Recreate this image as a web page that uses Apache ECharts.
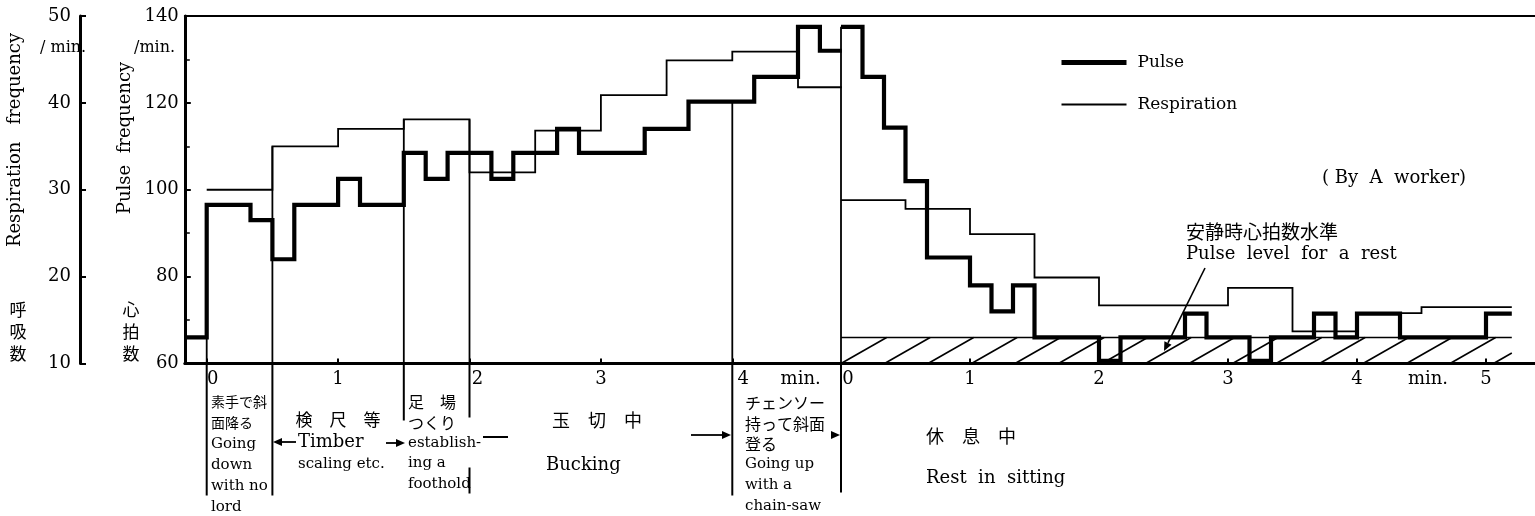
<!DOCTYPE html>
<html><head><meta charset="utf-8">
<script src="https://cdn.jsdelivr.net/npm/echarts@6/dist/echarts.min.js"></script>
<style>html,body{margin:0;padding:0;background:#fff}#c{width:1535px;height:516px}</style>
</head><body><div id="c"></div>
<script>
// ---- Data (minutes; pulse beats/min; respiration breaths/min) ----
const workPulseT = [-1/6, 0, 1/3, 1/2, 2/3, 1, 7/6, 3/2, 5/3, 11/6, 13/6, 7/3, 8/3, 17/6, 10/3, 11/3, 25/6, 9/2, 14/3, 29/6];
const workPulse  = [66, 96.5, 93, 84, 96.5, 102.5, 96.5, 108.5, 102.5, 108.5, 102.5, 108.5, 114, 108.5, 114, 120.3, 126, 137.5, 132, 132];
const workRespT  = [0, 0.5, 1, 1.5, 2, 2.5, 3, 3.5, 4, 4.5, 29/6];
const workResp   = [30, 35, 37, 38.1, 32, 36.8, 40.9, 44.9, 45.9, 41.8, 41.8];
const restPulseT = [0, 1/6, 1/3, 1/2, 2/3, 1, 7/6, 4/3, 3/2, 2, 13/6, 8/3, 17/6, 19/6, 10/3, 11/3, 23/6, 4, 13/3, 5, 5.2];
const restPulse  = [137.5, 126, 114.3, 102, 84.4, 78, 72, 78, 66, 60.6, 66, 71.5, 66, 60.6, 66, 71.5, 66, 71.5, 66, 71.5, 71.5];
const restRespT  = [0, 0.5, 1, 1.5, 2, 3, 3.5, 4, 4.5, 5.2];
const restResp   = [28.8, 27.8, 24.9, 19.9, 16.7, 18.7, 13.7, 15.8, 16.5, 16.5];
const restLevel  = [[0, 5.2, 60, 66]];           // resting pulse level band
const workDividerT   = [0, 0.5, 1.5, 2, 4];
const workDividerTop = [96.5, 110, 116.2, 116.2, 120.3];
const restDividerT   = [0];
const restDividerTop = [137.5];
const pulseTicks = [60, 80, 100, 120, 140];
const respTicks  = [10, 20, 30, 40, 50];
const workTicks  = [0, 1, 2, 3, 4];
const restTicks  = [0, 1, 2, 3, 4, 5];

// ---- styles ----
const SERIF = '"DejaVu Serif", "Liberation Serif", serif';
const JP = '"Noto Sans CJK JP", sans-serif';
const workBelow = [[[0,132]], [[0,132]], [[0,57]], [[0,54],[104,130]], [[0,132]]];
const restBelow = [[[0,129]]];

const zip = (a, b) => a.map((v, i) => [v, b[i]]);

function dividerRender(below) {
  return function (params, api) {
    const pTop = api.coord([api.value(0), api.value(1)]);
    const pBot = api.coord([api.value(0), 60]);
    const ch = [{type:'line', shape:{x1:pTop[0], y1:pTop[1], x2:pBot[0], y2:pBot[1]}, style:{stroke:'#000', lineWidth:1.8}}];
    (below[params.dataIndex] || []).forEach(s => {
      ch.push({type:'line', shape:{x1:pBot[0], y1:pBot[1]+s[0], x2:pBot[0], y2:pBot[1]+s[1]}, style:{stroke:'#000', lineWidth:2}});
    });
    return {type:'group', children: ch};
  };
}

function hatchRender(params, api) {
  const p0 = api.coord([api.value(0), api.value(2)]);
  const p1 = api.coord([api.value(1), api.value(3)]);
  const left = p0[0], bottom = p0[1], right = p1[0], top = p1[1];
  const h = bottom - top, run = h * 1.75, gap = 43.5;
  const st = {stroke:'#000', lineWidth:1.6};
  const ch = [{type:'line', shape:{x1:left, y1:top, x2:right, y2:top}, style:st}];
  for (let x = left; x < right - 2; x += gap) {
    let x2 = x + run, y2 = top;
    if (x2 > right) { y2 = bottom - h * (right - x) / run; x2 = right; }
    ch.push({type:'line', shape:{x1:x, y1:bottom, x2:x2, y2:y2}, style:st});
  }
  return {type:'group', children: ch};
}

function arrow(x1, y1, x2, y2, lw) {
  const a = Math.atan2(y2 - y1, x2 - x1), L = 9, W = 4;
  const bx = x2 - L * Math.cos(a), by = y2 - L * Math.sin(a);
  return [
    {type:'line', shape:{x1, y1, x2:bx, y2:by}, style:{stroke:'#000', lineWidth: lw || 1.8}},
    {type:'polygon', shape:{points:[[x2,y2],[bx - W*Math.sin(a), by + W*Math.cos(a)],[bx + W*Math.sin(a), by - W*Math.cos(a)]]}, style:{fill:'#000'}}
  ];
}
function txt(x, y, s, size, font, extra) {
  return {type:'text', x, y, style:Object.assign({text:s, fontSize:size, fontFamily:font, fill:'#000', textVerticalAlign:'middle', textAlign:'left'}, extra || {})};
}
// annotation lines: [x, y, text, size, font, align]
const notes = [
  [40, 48, '/ min.', 16, SERIF],
  [134, 48, '/min.', 16, SERIF],
  [211, 402, '素手で斜', 14, JP], [211, 423, '面降る', 14, JP],
  [211, 444, 'Going', 15, SERIF], [211, 465, 'down', 15, SERIF], [211, 486, 'with no', 15, SERIF], [211, 507, 'lord', 15, SERIF],
  [338, 420, '検　尺　等', 17, JP, 'center'],
  [298, 442, 'Timber', 18, SERIF], [298, 464, 'scaling etc.', 15, SERIF],
  [408, 402, '足　場', 16, JP], [408, 423, 'つくり', 16, JP],
  [408, 443, 'establish-', 15, SERIF], [408, 463, 'ing a', 15, SERIF], [408, 484, 'foothold', 15, SERIF],
  [597, 420, '玉　切　中', 18, JP, 'center'],
  [546, 465, 'Bucking', 18, SERIF],
  [745, 403, 'チェンソー', 16, JP], [745, 424, '持って斜面', 16, JP], [745, 444, '登る', 16, JP],
  [745, 464, 'Going up', 15, SERIF], [745, 485, 'with a', 15, SERIF], [745, 506, 'chain-saw', 15, SERIF],
  [926, 436, '休　息　中', 18, JP],
  [926, 478, 'Rest  in  sitting', 18, SERIF],
  [1322, 178, '( By  A  worker)', 18, SERIF],
  [1186, 232, '安静時心拍数水準', 19, JP],
  [1186, 254, 'Pulse  level  for  a  rest', 18, SERIF]
];

const G1L = 184.8, G1W = 657, G2L = 841, TOP = 16, H = 347.5;
const tickLabel = {fontFamily: SERIF, fontSize: 18, color: '#000'};

function xLabelFmt(shift, minAt) {
  return function (v) {
    if (Math.abs(v - minAt) < 1e-6) return 'min.';
    const s = shift[v];
    return s ? '{r' + s + '|' + v + '}' : String(v);
  };
}
const richShift = {};
[12, 14, 16, 22].forEach(p => { richShift['r' + p] = {padding:[0,0,0,p], fontFamily:SERIF, fontSize:18, color:'#000'}; });

const chart = echarts.init(document.getElementById('c'));
chart.setOption({
  animation: false,
  backgroundColor: '#fff',
  grid: [
    {left: G1L, top: TOP, width: G1W, height: H},
    {left: G2L, top: TOP, width: 1535 - G2L, height: H}
  ],
  xAxis: [
    {gridIndex:0, type:'value', position:'bottom', min:-1/6, max:29/6,
     axisLine:{onZero:false, lineStyle:{color:'#000', width:3}}, splitLine:{show:false},
     axisTick:{inside:true, length:5, lineStyle:{width:2, color:'#000'}, customValues: workTicks},
     axisLabel:Object.assign({margin:7, customValues: workTicks.concat([4.52]), formatter: xLabelFmt({0:12, 2:16, 4:22}, 4.52), rich: richShift}, tickLabel)},
    {gridIndex:0, type:'value', position:'top', min:-1/6, max:29/6,
     axisLine:{onZero:false, lineStyle:{color:'#000', width:2}}, axisTick:{show:false}, axisLabel:{show:false}, splitLine:{show:false}},
    {gridIndex:1, type:'value', position:'bottom', min:0, max:(1535 - G2L) / 129,
     axisLine:{onZero:false, lineStyle:{color:'#000', width:3}}, splitLine:{show:false},
     axisTick:{inside:true, length:5, lineStyle:{width:2, color:'#000'}, customValues: restTicks.slice(1)},
     axisLabel:Object.assign({margin:7, customValues: restTicks.concat([4.55]), formatter: xLabelFmt({0:14}, 4.55), rich: richShift}, tickLabel)},
    {gridIndex:1, type:'value', position:'top', min:0, max:(1535 - G2L) / 129,
     axisLine:{onZero:false, lineStyle:{color:'#000', width:2}}, axisTick:{show:false}, axisLabel:{show:false}, splitLine:{show:false}}
  ],
  yAxis: [
    {gridIndex:0, type:'value', position:'left', min:60, max:140, interval:20,
     axisLine:{show:true, onZero:false, lineStyle:{color:'#000', width:3}}, splitLine:{show:false},
     axisTick:{show:true, inside:true, length:6, lineStyle:{width:2, color:'#000'}},
     minorTick:{show:true, splitNumber:2, length:5, lineStyle:{width:1.5, color:'#000'}},
     axisLabel:Object.assign({margin:6, customValues: pulseTicks}, tickLabel)},
    {gridIndex:0, type:'value', position:'left', offset: G1L - 80, min:10, max:50, interval:10,
     axisLine:{show:true, onZero:false, lineStyle:{color:'#000', width:3}}, splitLine:{show:false},
     axisTick:{show:true, inside:true, length:6, lineStyle:{width:2, color:'#000'}},
     axisLabel:Object.assign({margin:9, customValues: respTicks}, tickLabel)},
    {gridIndex:1, type:'value', min:60, max:140, show:false},
    {gridIndex:1, type:'value', min:10, max:50, show:false}
  ],
  legend: {
    data: [
      {name:'Pulse', lineStyle:{width:5, color:'#000'}, itemStyle:{opacity:0}},
      {name:'Respiration', lineStyle:{width:1.8, color:'#000'}, itemStyle:{opacity:0}}
    ],
    orient: 'vertical', left: 1059, top: 54, padding: 0,
    itemWidth: 65, itemHeight: 16, itemGap: 25, selectedMode: false,
    textStyle: {fontFamily: SERIF, fontSize: 17, color: '#000', padding: [0,0,0,6]}
  },
  series: [
    {name:'Pulse', type:'line', step:'end', xAxisIndex:0, yAxisIndex:0, data: zip(workPulseT, workPulse),
     symbol:'none', z:4, lineStyle:{color:'#000', width:4.2, cap:'butt', join:'miter'}, itemStyle:{color:'#000'}},
    {name:'Respiration', type:'line', step:'end', xAxisIndex:0, yAxisIndex:1, data: zip(workRespT, workResp),
     symbol:'none', z:3, lineStyle:{color:'#000', width:1.8, cap:'butt', join:'miter'}, itemStyle:{color:'#000'}},
    {name:'Pulse', type:'line', step:'end', xAxisIndex:2, yAxisIndex:2, data: zip(restPulseT, restPulse),
     symbol:'none', z:4, lineStyle:{color:'#000', width:4.2, cap:'butt', join:'miter'}, itemStyle:{color:'#000'}},
    {name:'Respiration', type:'line', step:'end', xAxisIndex:2, yAxisIndex:3, data: zip(restRespT, restResp),
     symbol:'none', z:3, lineStyle:{color:'#000', width:1.8, cap:'butt', join:'miter'}, itemStyle:{color:'#000'}},
    {type:'custom', xAxisIndex:2, yAxisIndex:2, data: restLevel, renderItem: hatchRender, clip:false, z:2, silent:true},
    {type:'custom', xAxisIndex:0, yAxisIndex:0, data: zip(workDividerT, workDividerTop), renderItem: dividerRender(workBelow), clip:false, z:2, silent:true},
    {type:'custom', xAxisIndex:2, yAxisIndex:2, data: zip(restDividerT, restDividerTop), renderItem: dividerRender(restBelow), clip:false, z:2, silent:true}
  ],
  graphic: [].concat(
    [
      txt(15, 140, 'Respiration   frequency', 18, SERIF, {textAlign:'center'}),
      txt(125, 138, 'Pulse  frequency', 18, SERIF, {textAlign:'center'})
    ].map(e => Object.assign(e, {rotation: Math.PI / 2})),
    [
      txt(18, 332, '呼\n吸\n数', 17, JP, {textAlign:'center', lineHeight:22}),
      txt(131, 332, '心\n拍\n数', 17, JP, {textAlign:'center', lineHeight:22}),
      {type:'line', shape:{x1:483, y1:437, x2:508, y2:437}, style:{stroke:'#000', lineWidth:2}}
    ],
    notes.map(n => txt(n[0], n[1], n[2], n[3], n[4], {textAlign: n[5] || 'left'})),
    arrow(296, 442, 273, 442),
    arrow(386, 443, 405, 443),
    arrow(691, 435, 731, 435),
    arrow(833, 435, 840, 435),
    arrow(1205, 268, 1164, 351, 1.6)
  )
});
</script>
</body></html>
